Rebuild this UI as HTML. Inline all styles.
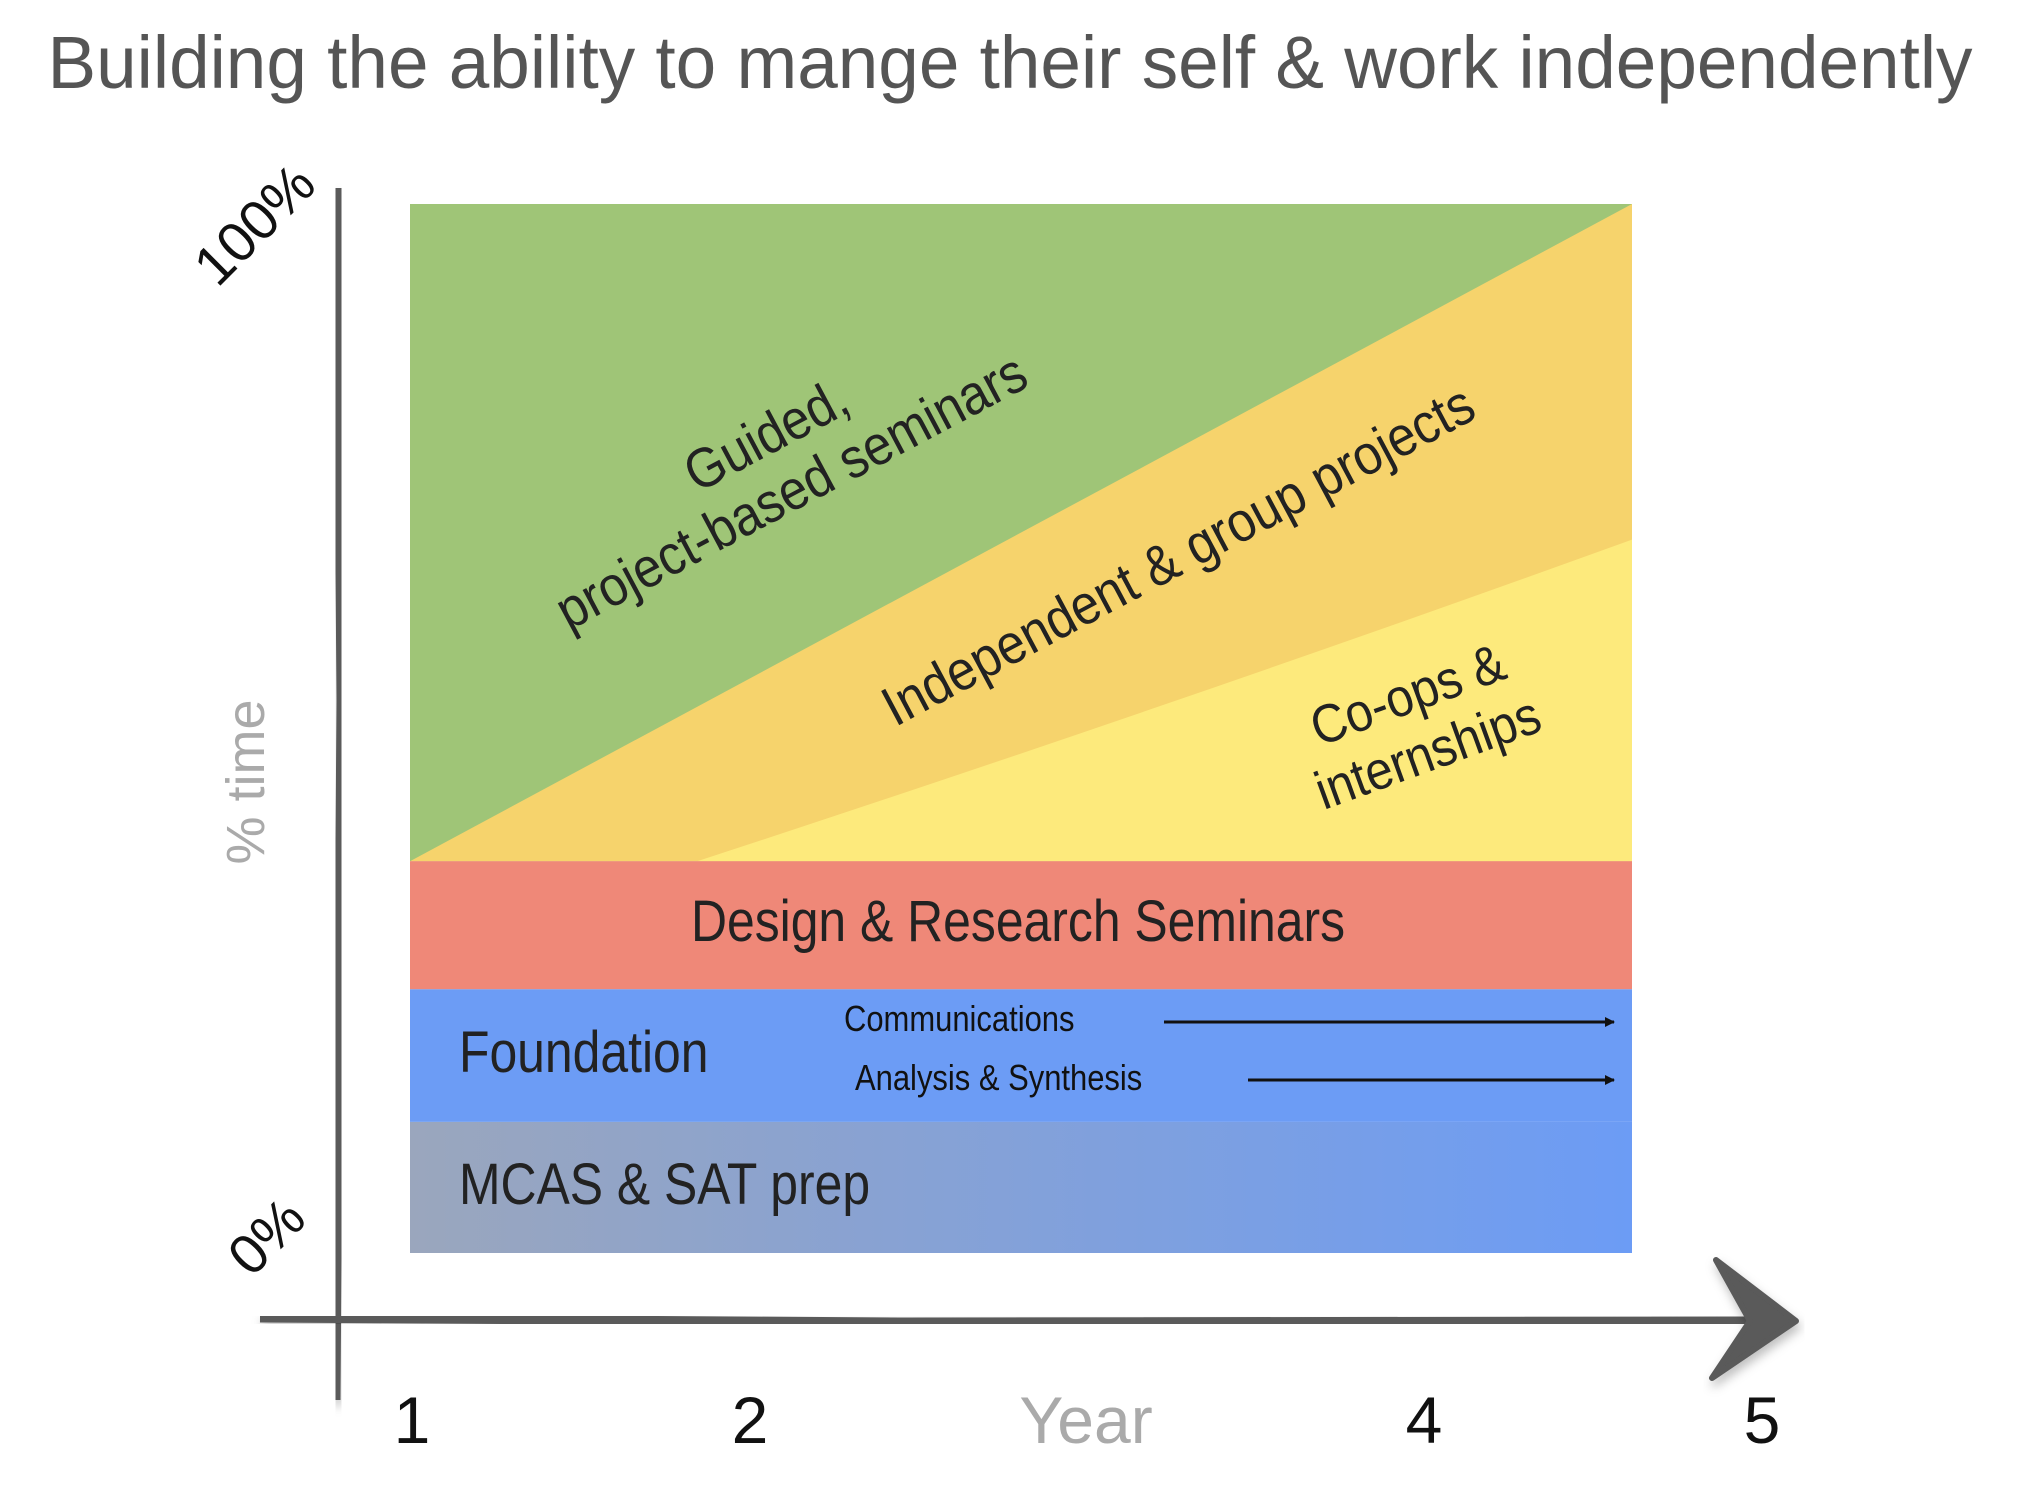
<!DOCTYPE html>
<html><head><meta charset="utf-8">
<style>
html,body{margin:0;padding:0;background:#fff;}
svg{display:block;}
text{font-family:"Liberation Sans",sans-serif;}
</style></head>
<body>
<svg id="chart" width="2020" height="1488" viewBox="0 0 2020 1488" xmlns="http://www.w3.org/2000/svg">
<defs>
  <linearGradient id="mcasGrad" x1="0" y1="0" x2="1" y2="0">
    <stop offset="0" stop-color="#9aa6bd"/>
    <stop offset="1" stop-color="#6c9cf5"/>
  </linearGradient>
  <marker id="arrowHead" markerWidth="10" markerHeight="10" refX="9" refY="5" orient="auto" markerUnits="userSpaceOnUse">
    <path d="M0,0 L10,5 L0,10 z" fill="#111"/>
  </marker>
  <filter id="shadow" x="-10%" y="-50%" width="120%" height="200%">
    <feDropShadow dx="2" dy="6" stdDeviation="5" flood-color="#000" flood-opacity="0.25"/>
  </filter>
</defs>
<text x="1010" y="88" text-anchor="middle" font-size="74" fill="#555" textLength="1925" lengthAdjust="spacingAndGlyphs">Building the ability to mange their self &amp; work independently</text>
<g id="plot"></g>
<g id="axes"></g>
</svg>
<script>
// data (percent of time, x as fraction of span shown)
const bandNames = ["MCAS & SAT prep", "Foundation", "Design & Research Seminars"];
const bandValues = [12.5, 12.65, 12.2];
const wedgeX = [0, 0.235, 1];
const orangeTop = [37.35, 51, 100];
const yellowTop = [37.35, 37.35, 68];
const xTickLabels = ["1", "2", "Year", "4", "5"];
const yTickLabels = ["0%", "100%"];

const NS = "http://www.w3.org/2000/svg";
const X0 = 410, X1 = 1632, Y0 = 1253, Y1 = 204;
const xS = f => X0 + f * (X1 - X0);
const yS = v => Y0 - v / 100 * (Y0 - Y1);
const plot = document.getElementById('plot');
const axes = document.getElementById('axes');
function mk(tag, attrs, parent) {
  const e = document.createElementNS(NS, tag);
  for (const k in attrs) e.setAttribute(k, attrs[k]);
  parent.appendChild(e);
  return e;
}
const bandTop = bandValues.reduce((a, b) => a + b, 0);
const g = mk('rect', {x: X0, y: yS(100), width: X1 - X0, height: yS(bandTop) - yS(100), fill: '#9fc577'}, plot);


const op = `M${xS(wedgeX[0])},${yS(orangeTop[0])} L${xS(1)},${yS(orangeTop[2])} L${xS(1)},${yS(bandTop)} Z`;
const o = mk('path', {d: op, fill: '#f6d36c'}, plot);


const yp = `M${xS(wedgeX[1])},${yS(yellowTop[1])} Q${xS(0.62)},${yS(yellowTop[2]-16)} ${xS(1)},${yS(yellowTop[2])} L${xS(1)},${yS(bandTop)} Z`;
const yel = mk('path', {d: yp, fill: '#fdea7c'}, plot);


const bandFills = ['url(#mcasGrad)', '#6c9cf5', '#ef8878'];
const bandKeys = ['mcas-band', 'foundation-band', 'design-band'];
let acc = 0;
bandValues.forEach((v, i) => {
  const r = mk('rect', {x: X0, y: yS(acc + v), width: X1 - X0, height: yS(acc) - yS(acc + v), fill: bandFills[i]}, plot);
  
  
  acc += v;
});
function txt(s, attrs, name) {
  const t = mk('text', attrs, plot);
  t.textContent = s;
  
  
  return t;
}
const cond = 'scale(0.86,1)';
txt("Design & Research Seminars", {x: 1018/0.86, y: 941, 'font-size': 58, fill: '#222', 'text-anchor': 'middle', transform: cond}, 'design-label');
txt("Foundation", {x: 459/0.86, y: 1072, 'font-size': 58, fill: '#222', transform: cond}, 'foundation-label');
txt("MCAS & SAT prep", {x: 459/0.86, y: 1204, 'font-size': 58, fill: '#222', transform: cond}, 'mcas-label');
txt("Communications", {x: 844/0.86, y: 1031, 'font-size': 36, fill: '#111', transform: cond}, 'communications-label');
txt("Analysis & Synthesis", {x: 855/0.86, y: 1090, 'font-size': 36, fill: '#111', transform: cond}, 'analysis-label');
const a1 = mk('line', {x1: 1164, y1: 1022, x2: 1614, y2: 1022, stroke: '#111', 'stroke-width': 3, 'marker-end': 'url(#arrowHead)'}, plot);


const a2 = mk('line', {x1: 1248, y1: 1080, x2: 1614, y2: 1080, stroke: '#111', 'stroke-width': 3, 'marker-end': 'url(#arrowHead)'}, plot);


txt("Guided,", {x: 0, y: 0, 'font-size': 56, fill: '#222', 'text-anchor': 'middle', transform: 'translate(775,452) rotate(-28) scale(0.9,1)'}, 'guided-label-line1');
txt("project-based seminars", {x: 0, y: 0, 'font-size': 56, fill: '#222', 'text-anchor': 'middle', transform: 'translate(800,508) rotate(-28) scale(0.9,1)'}, 'guided-label-line2');
txt("Independent & group projects", {x: 0, y: 0, 'font-size': 56, fill: '#222', 'text-anchor': 'middle', transform: 'translate(1187,572) rotate(-28) scale(0.9,1)'}, 'independent-label');
txt("Co-ops &", {x: 0, y: 0, 'font-size': 54, fill: '#222', 'text-anchor': 'middle', transform: 'translate(1414,712) rotate(-20) scale(0.9,1)'}, 'coops-label-line1');
txt("internships", {x: 0, y: 0, 'font-size': 54, fill: '#222', 'text-anchor': 'middle', transform: 'translate(1434,770) rotate(-20) scale(0.9,1)'}, 'coops-label-line2');

// axes
const yAx = mk('path', {d: 'M337,188 L341,700 L336,1400', stroke: '#5a5a5a', 'stroke-width': 9, fill: 'none', filter: 'url(#shadow)'}, axes);


const xAx = mk('path', {d: 'M260,1318 L900,1322 L1760,1321', stroke: '#5a5a5a', 'stroke-width': 9, fill: 'none', filter: 'url(#shadow)'}, axes);


const head = mk('path', {d: 'M1716,1260 L1796,1321 L1712,1378 L1750,1321 Z', fill: '#5a5a5a', stroke: '#5a5a5a', 'stroke-width': 6, 'stroke-linejoin': 'round', filter: 'url(#shadow)'}, axes);


const tickX = [412, 750, 1086, 1424, 1762];
xTickLabels.forEach((s, i) => {
  const t = mk('text', {x: tickX[i], y: 1443, 'font-size': 66, 'text-anchor': 'middle', fill: s === 'Year' ? '#aaa' : '#111'}, axes);
  t.textContent = s;
  
  
});
const t0 = mk('text', {x: 0, y: 0, 'font-size': 56, fill: '#111', 'text-anchor': 'middle', transform: 'translate(280,1250) rotate(-45)'}, axes);
t0.textContent = yTickLabels[0];


const t100 = mk('text', {x: 0, y: 0, 'font-size': 56, fill: '#111', 'text-anchor': 'middle', transform: 'translate(268,238) rotate(-45)'}, axes);
t100.textContent = yTickLabels[1];


const yt = mk('text', {x: 0, y: 0, 'font-size': 54, fill: '#aaa', 'text-anchor': 'middle', transform: 'translate(264,782) rotate(-90)'}, axes);
yt.textContent = '% time';


</script>
</body></html>
